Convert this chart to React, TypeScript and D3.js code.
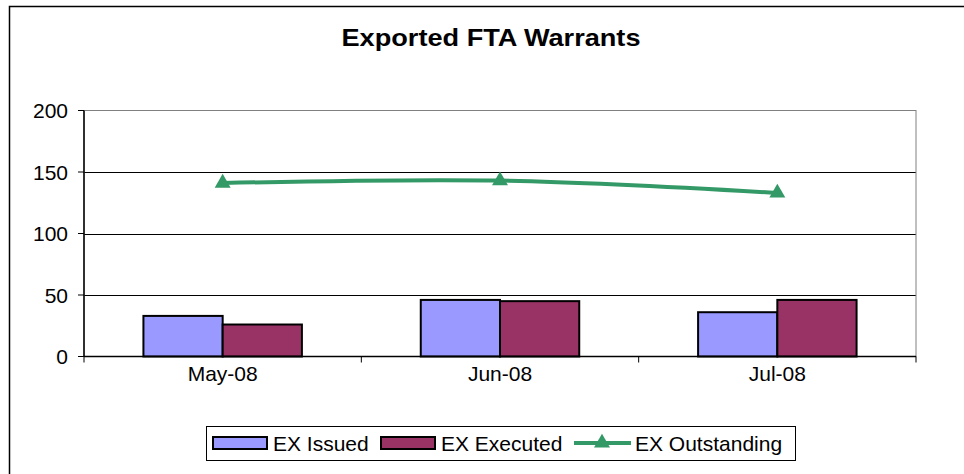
import React from 'react';
import * as d3 from 'd3';

const categories = ['May-08', 'Jun-08', 'Jul-08'];
const issued = [33, 46, 36];
const executed = [26, 45, 46];
const outstanding = [141, 143, 133];
const yTicks = [0, 50, 100, 150, 200];

const W = 964;
const H = 474;
const plot = { left: 84, right: 916, top: 110.5, bottom: 356.5 };
const FONT = 'Arial, "Liberation Sans", sans-serif';

const App = () => {
  const x = d3.scaleBand().domain(categories).range([plot.left, plot.right]).padding(0);
  const y = d3.scaleLinear().domain([0, 200]).range([plot.bottom, plot.top]);
  // excel gap width 150% -> two bars + 1.5 bar of gap per band
  const barW = x.bandwidth() / 3.5;
  const sub = d3
    .scaleBand()
    .domain(['issued', 'executed'])
    .range([(x.bandwidth() - 2 * barW) / 2, (x.bandwidth() + 2 * barW) / 2]);

  const line = d3
    .line<number>()
    .x((_, i) => x(categories[i])! + x.bandwidth() / 2)
    .y((d) => y(d))
    .curve(d3.curveCatmullRom.alpha(0.5));

  const tri = d3.symbol().type(d3.symbolTriangle).size(110)();

  const boundaries = [...categories.map((c) => x(c)!), plot.right];

  return (
    <svg width={W} height={H} style={{ position: 'absolute', left: 0, top: 0, background: '#fff' }} fontFamily={FONT}>
      <rect x={9.5} y={6.5} width={W + 20} height={H + 20} fill="#fff" stroke="#000" strokeWidth={1.5} />

      <text x={491} y={46} textAnchor="middle" fontSize={24} fontWeight="bold" textLength={299} lengthAdjust="spacingAndGlyphs">
        Exported FTA Warrants
      </text>

      {/* gridlines */}
      {yTicks.slice(1, -1).map((t) => (
        <line key={t} x1={plot.left} x2={plot.right} y1={Math.round(y(t)) + 0.5} y2={Math.round(y(t)) + 0.5} stroke="#000" strokeWidth={1} />
      ))}
      <rect x={plot.left} y={plot.top} width={plot.right - plot.left} height={plot.bottom - plot.top} fill="none" stroke="#808080" strokeWidth={1} />

      {/* bars */}
      {categories.map((c, i) => (
        <g key={c} transform={`translate(${x(c)},0)`}>
          <rect x={sub('issued')} y={y(issued[i])} width={barW} height={y(0) - y(issued[i])} fill="#9999FF" stroke="#000" strokeWidth={2} />
          <rect x={sub('executed')} y={y(executed[i])} width={barW} height={y(0) - y(executed[i])} fill="#993366" stroke="#000" strokeWidth={2} />
        </g>
      ))}

      {/* axes */}
      <line x1={plot.left} x2={plot.left} y1={plot.top} y2={plot.bottom} stroke="#000" strokeWidth={1.5} />
      <line x1={plot.left} x2={plot.right} y1={plot.bottom} y2={plot.bottom} stroke="#000" strokeWidth={1.5} />
      {yTicks.map((t) => (
        <g key={t}>
          <line x1={plot.left - 6} x2={plot.left} y1={y(t)} y2={y(t)} stroke="#000" strokeWidth={1} />
          <text x={68} y={y(t) + 7.5} textAnchor="end" fontSize={21}>
            {t}
          </text>
        </g>
      ))}
      {boundaries.map((b, i) => (
        <line key={i} x1={b} x2={b} y1={plot.bottom} y2={plot.bottom + 6} stroke="#000" strokeWidth={1} />
      ))}
      {categories.map((c) => (
        <text key={c} x={x(c)! + x.bandwidth() / 2} y={381} textAnchor="middle" fontSize={21}>
          {c}
        </text>
      ))}

      {/* line series */}
      <path d={line(outstanding) || ''} fill="none" stroke="#339966" strokeWidth={4} />
      {outstanding.map((v, i) => (
        <path key={i} d={tri || ''} transform={`translate(${x(categories[i])! + x.bandwidth() / 2},${y(v)})`} fill="#339966" />
      ))}

      {/* legend */}
      <g>
        <rect x={206.5} y={426.5} width={589} height={34} fill="#fff" stroke="#000" strokeWidth={1} />
        <rect x={213} y={437} width={54} height={12} fill="#9999FF" stroke="#000" strokeWidth={2} />
        <text x={273} y={451} fontSize={21}>EX Issued</text>
        <rect x={381} y={437} width={54} height={12} fill="#993366" stroke="#000" strokeWidth={2} />
        <text x={441} y={451} fontSize={21}>EX Executed</text>
        <line x1={574} x2={631} y1={443} y2={443} stroke="#339966" strokeWidth={4} />
        <path d={tri || ''} transform="translate(602,443)" fill="#339966" />
        <text x={635} y={451} fontSize={21}>EX Outstanding</text>
      </g>
    </svg>
  );
};

export default App;
